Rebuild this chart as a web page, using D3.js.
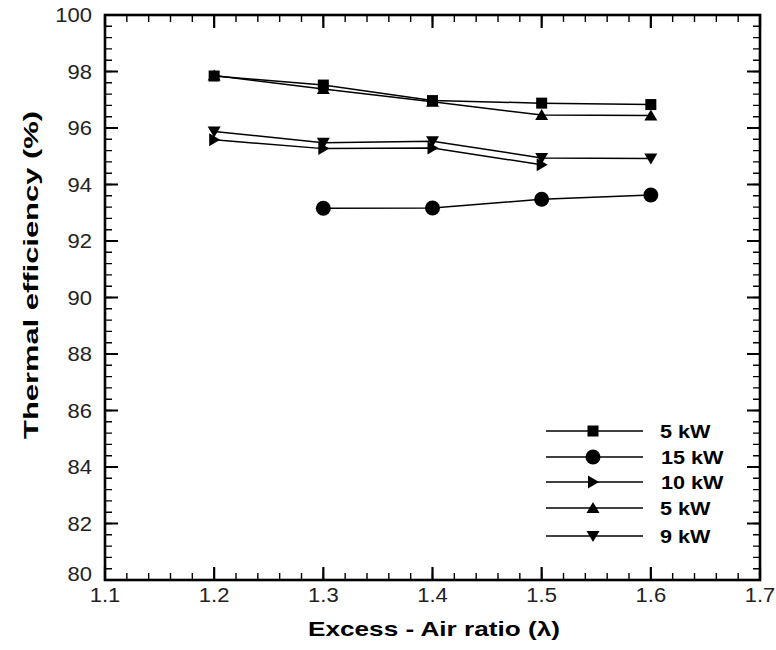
<!DOCTYPE html>
<html><head><meta charset="utf-8">
<script src="https://cdn.jsdelivr.net/npm/d3@7"></script>
<style>body{margin:0;background:#fff}svg{display:block;font-family:"Liberation Sans",Arial,sans-serif}</style>
</head><body><svg id="c" width="776" height="650"></svg>
<script>
const xTicks = [1.1,1.2,1.3,1.4,1.5,1.6,1.7];
const yTicks = [80,82,84,86,88,90,92,94,96,98,100];
const seriesNames = ["5 kW","15 kW","10 kW","5 kW","9 kW"];
const seriesSymbols = ["square","circle","right","up","down"];
const s5a_x = [1.2,1.3,1.4,1.5,1.6];
const s5a_y = [97.84,97.52,96.97,96.88,96.83];
const s15_x = [1.3,1.4,1.5,1.6];
const s15_y = [93.16,93.17,93.48,93.63];
const s10_x = [1.2,1.3,1.4,1.5];
const s10_y = [95.58,95.27,95.29,94.7];
const s5b_x = [1.2,1.3,1.4,1.5,1.6];
const s5b_y = [97.86,97.38,96.93,96.46,96.44];
const s9_x = [1.2,1.3,1.4,1.5,1.6];
const s9_y = [95.88,95.48,95.53,94.94,94.92];
const seriesX = [s5a_x,s15_x,s10_x,s5b_x,s9_x];
const seriesY = [s5a_y,s15_y,s10_y,s5b_y,s9_y];

const svg = d3.select("#c");
const L=105,R=760,T=15,B=580;
const x = d3.scaleLinear().domain([1.1,1.7]).range([L,R]);
const y = d3.scaleLinear().domain([80,100]).range([B,T]);

const xMinor = [];
for(let i=0;i<=30;i++) xMinor.push(Math.round((1.1+i*0.02)*100)/100);
const yMinor = [];
for(let i=0;i<=50;i++) yMinor.push(Math.round((80+i*0.4)*10)/10);

// ticks as one path each (minor / major)
const MJ=13, MN=7;
function tickPath(xv, yv, len){
  const p = d3.path();
  xv.forEach(v=>{ p.moveTo(x(v),B); p.lineTo(x(v),B-len); p.moveTo(x(v),T); p.lineTo(x(v),T+len); });
  yv.forEach(v=>{ p.moveTo(L,y(v)); p.lineTo(L+len,y(v)); p.moveTo(R,y(v)); p.lineTo(R-len,y(v)); });
  return p.toString();
}
svg.append("path").attr("d",tickPath(xMinor,yMinor,MN)).attr("fill","none").attr("stroke","#000").attr("stroke-width",1.4);
svg.append("path").attr("d",tickPath(xTicks,yTicks,MJ)).attr("fill","none").attr("stroke","#000").attr("stroke-width",2.2);

svg.append("rect").attr("x",L).attr("y",T).attr("width",R-L).attr("height",B-T)
  .attr("fill","none").attr("stroke","#000").attr("stroke-width",2.6);

function stretch(sel,f){
  sel.each(function(){
    const w = this.getComputedTextLength();
    d3.select(this).attr("textLength",w*f).attr("lengthAdjust","spacingAndGlyphs");
  });
}

const xl = svg.append("g").selectAll("text").data(xTicks).join("text")
  .attr("x",d=>x(d)).attr("y",602).attr("text-anchor","middle").attr("font-size",20).attr("fill","#222")
  .text(d=>d.toFixed(1));
stretch(xl,1.1);
const yl = svg.append("g").selectAll("text").data(yTicks).join("text")
  .attr("x",92).attr("y",d=>y(d)+ (d===80?1:7)).attr("text-anchor","end").attr("font-size",20).attr("fill","#222")
  .text(d=>d);
stretch(yl,1.1);

const xt = svg.append("text").attr("x",434).attr("y",636).attr("text-anchor","middle").attr("font-size",21).attr("font-weight","bold").text("Excess - Air ratio (λ)");
xt.attr("textLength",252).attr("lengthAdjust","spacingAndGlyphs");
const ytt = svg.append("text").attr("transform","translate(38,275) rotate(-90)").attr("text-anchor","middle").attr("font-size",21).attr("font-weight","bold").text("Thermal efficiency (%)");
ytt.attr("textLength",328).attr("lengthAdjust","spacingAndGlyphs");

function marker(sel,sym,cx,cy){
  if(sym==="square") sel.append("rect").attr("x",cx-5.5).attr("y",cy-5.5).attr("width",11).attr("height",11).attr("fill","#000");
  else if(sym==="circle") sel.append("circle").attr("cx",cx).attr("cy",cy).attr("r",7.5).attr("fill","#000");
  else if(sym==="up") sel.append("path").attr("d",`M${cx},${cy-6}L${cx+6.5},${cy+5}L${cx-6.5},${cy+5}Z`).attr("fill","#000");
  else if(sym==="down") sel.append("path").attr("d",`M${cx},${cy+6}L${cx+6.5},${cy-5}L${cx-6.5},${cy-5}Z`).attr("fill","#000");
  else if(sym==="right") sel.append("path").attr("d",`M${cx+6},${cy}L${cx-5},${cy-6.5}L${cx-5},${cy+6.5}Z`).attr("fill","#000");
}
const line = d3.line().x(d=>x(d[0])).y(d=>y(d[1]));
seriesX.forEach((xs,i)=>{
  const pts = xs.map((v,j)=>[v,seriesY[i][j]]);
  const sg = svg.append("g");
  sg.append("path").attr("d",line(pts)).attr("fill","none").attr("stroke","#000").attr("stroke-width",1.5);
  pts.forEach(p=>marker(sg,seriesSymbols[i],x(p[0]),y(p[1])));
});

const legY = [431,457,482,508,536];
const legTX = [660,661,661,660,660];
seriesNames.forEach((n,i)=>{
  const lg = svg.append("g");
  lg.append("line").attr("x1",546).attr("x2",643).attr("y1",legY[i]).attr("y2",legY[i]).attr("stroke","#000").attr("stroke-width",1.5);
  marker(lg,seriesSymbols[i],593,legY[i]);
  const t = lg.append("text").attr("x",legTX[i]).attr("y",legY[i]+7).attr("font-size",18).attr("font-weight","bold").text(n);
  stretch(t,1.2);
});
</script></body></html>
